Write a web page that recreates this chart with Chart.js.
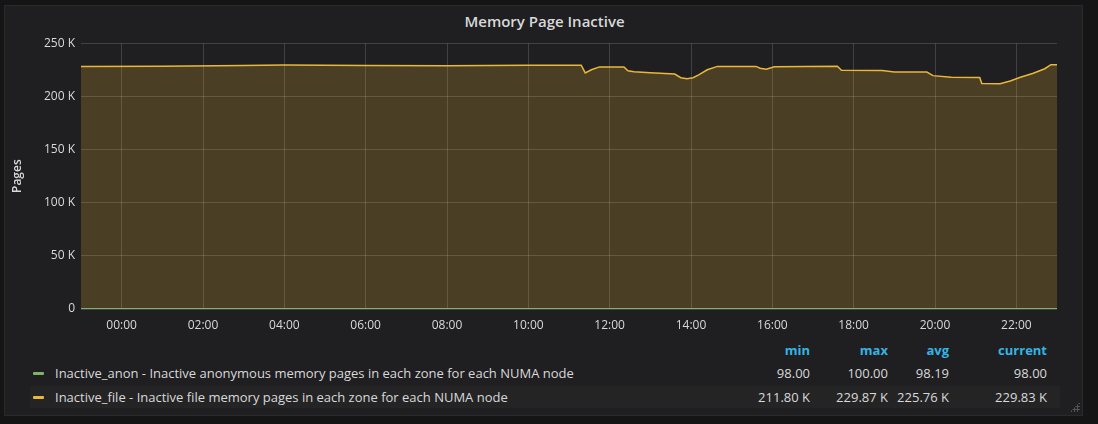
<!DOCTYPE html>
<html>
<head>
<meta charset="utf-8">
<script src="https://cdn.jsdelivr.net/npm/chart.js@4.4.1/dist/chart.umd.min.js"></script>
<style>
  html, body { margin: 0; padding: 0; }
  body { width: 1098px; height: 424px; background: #151515; position: relative; overflow: hidden; font-family: "Open Sans", "DejaVu Sans", sans-serif; }
  #panel { position: absolute; left: 4px; top: 5px; width: 1079px; height: 411px; background: #1f1e20; border: 1px solid #2a2a2b; box-sizing: border-box; }
  #title { position: absolute; left: 4px; width: 1081px; top: 11px; text-align: center; color: #d8d9da; font-size: 15px; font-weight: 600; line-height: 20px; }
  #chartWrap { position: absolute; left: 0; top: 30px; width: 1098px; height: 310px; }
  .txt { position: absolute; font-size: 13px; line-height: 18px; color: #d8d9da; white-space: nowrap; }
  .hdr { position: absolute; font-size: 13px; line-height: 18px; color: #33b5e5; font-weight: 700; text-align: right; }
  .num { position: absolute; font-size: 13px; line-height: 18px; color: #d8d9da; text-align: right; width: 90px; }
  .mark { position: absolute; width: 11px; height: 3px; border-radius: 1px; }
  #row2bg { position: absolute; left: 30px; top: 386px; width: 1030px; height: 22px; background: #242425; }
  #grip { position: absolute; left: 1070px; top: 402px; width: 10px; height: 10px;
    background-image: radial-gradient(circle, #555 1px, transparent 1.2px); background-size: 3px 3px; clip-path: polygon(100% 0, 100% 100%, 0 100%); }
</style>
</head>
<body>
<div id="panel"></div>
<div id="title">Memory Page Inactive</div>
<div id="chartWrap"><canvas id="c" width="1098" height="310"></canvas></div>

<div id="row2bg"></div>
<div class="hdr" style="left:720px;top:341px;width:90px;">min</div>
<div class="hdr" style="left:798px;top:341px;width:90px;">max</div>
<div class="hdr" style="left:859px;top:341px;width:90px;">avg</div>
<div class="hdr" style="left:957px;top:341px;width:90px;">current</div>

<div class="mark" style="left:33px;top:372px;background:#7eb26d;"></div>
<div class="txt" id="lab1" style="left:55px;top:364px;"></div>
<div class="mark" style="left:33px;top:396px;background:#eab839;"></div>
<div class="txt" id="lab2" style="left:55px;top:388px;"></div>

<div class="num" id="s1min" style="left:720px;top:364px;"></div>
<div class="num" id="s1max" style="left:798px;top:364px;"></div>
<div class="num" id="s1avg" style="left:859px;top:364px;"></div>
<div class="num" id="s1cur" style="left:957px;top:364px;"></div>
<div class="num" id="s2min" style="left:720px;top:388px;"></div>
<div class="num" id="s2max" style="left:798px;top:388px;"></div>
<div class="num" id="s2avg" style="left:859px;top:388px;"></div>
<div class="num" id="s2cur" style="left:957px;top:388px;"></div>
<div id="grip"></div>

<script>
// ---- data ----
const seriesNames = [
  "Inactive_anon - Inactive anonymous memory pages in each zone for each NUMA node",
  "Inactive_file - Inactive file memory pages in each zone for each NUMA node"
];
const hourTicks = [0, 2, 4, 6, 8, 10, 12, 14, 16, 18, 20, 22];
const yTicks = [0, 50000, 100000, 150000, 200000, 250000];

// hours relative to 00:00 (range -1 .. 23)
const anonHours  = [-1, 2.5, 2.6, 9.0, 9.1, 17.0, 17.1, 23];
const anonValues = [98, 98, 100, 100, 98, 98, 98, 98];

const fileHours = [-1.0, 1.0, 3.0, 4.0, 6.0, 8.0, 10.0, 11.3, 11.4, 11.55, 11.75, 12.35, 12.45, 12.6, 13.0, 13.6, 13.75, 13.9, 14.05, 14.2, 14.4, 14.65, 15.6, 15.7, 15.85, 16.05, 17.6, 17.7, 18.7, 19.0, 19.8, 19.95, 20.4, 21.1, 21.15, 21.6, 21.85, 22.1, 22.4, 22.7, 22.85, 23.0];
const fileValues = [228000, 228300, 229000, 229500, 229000, 228900, 229200, 229300, 222000, 225000, 227700, 227700, 224000, 223200, 222300, 221000, 217500, 216500, 217500, 220500, 225000, 228200, 228200, 226500, 225600, 227800, 228400, 224600, 224300, 223000, 222800, 219500, 218000, 217800, 212000, 211800, 214500, 218000, 221500, 226000, 229800, 229830];

const statsAnon = ["98.00", "100.00", "98.19", "98.00"];
const statsFile = ["211.80 K", "229.87 K", "225.76 K", "229.83 K"];

// ---- legend text ----
document.getElementById('lab1').textContent = seriesNames[0];
document.getElementById('lab2').textContent = seriesNames[1];
['min','max','avg','cur'].forEach((k, i) => {
  document.getElementById('s1' + k).textContent = statsAnon[i];
  document.getElementById('s2' + k).textContent = statsFile[i];
});

const toXY = (xs, ys) => xs.map((x, i) => ({ x: x, y: ys[i] }));
const gridColor = 'rgba(140,140,140,0.32)';
const tickColor = '#d8d9da';

new Chart(document.getElementById('c'), {
  type: 'line',
  data: {
    datasets: [
      {
        label: 'anon',
        data: toXY(anonHours, anonValues),
        borderColor: '#7eb26d',
        borderWidth: 2,
        pointRadius: 0,
        fill: false,
        stepped: false,
        order: 0
      },
      {
        label: 'file',
        data: toXY(fileHours, fileValues),
        borderColor: '#eab839',
        backgroundColor: 'rgba(234,184,57,0.21)',
        borderWidth: 1.5,
        pointRadius: 0,
        fill: 'origin',
        order: 1
      }
    ]
  },
  options: {
    responsive: false,
    animation: false,
    layout: { padding: { left: 0, right: 41, top: 13, bottom: 0 } },
    plugins: { legend: { display: false }, tooltip: { enabled: false } },
    scales: {
      x: {
        type: 'linear',
        min: -1,
        max: 23,
        afterBuildTicks: (axis) => { axis.ticks = hourTicks.map(v => ({ value: v })); },
        afterFit: (scale) => { scale.height = 31; },
        grid: { color: gridColor, drawTicks: false },
        border: { display: false },
        ticks: {
          autoSkip: false, maxRotation: 0, padding: 9,
          color: tickColor, font: { family: 'Open Sans', size: 12 },
          callback: (v) => String(v).padStart(2, '0') + ':00'
        }
      },
      y: {
        min: 0,
        max: 250000,
        afterBuildTicks: (axis) => { axis.ticks = yTicks.map(v => ({ value: v })); },
        afterFit: (scale) => { scale.width = 81; },
        grid: { color: gridColor, drawTicks: false },
        border: { display: false },
        title: { display: true, text: 'Pages', color: tickColor, font: { family: 'Open Sans', size: 12, weight: '600' }, padding: { top: 10, bottom: 0 } },
        ticks: {
          padding: 6,
          color: tickColor, font: { family: 'Open Sans', size: 12 },
          callback: (v) => v === 0 ? '0' : (v / 1000) + ' K'
        }
      }
    }
  }
});
</script>
</body>
</html>
